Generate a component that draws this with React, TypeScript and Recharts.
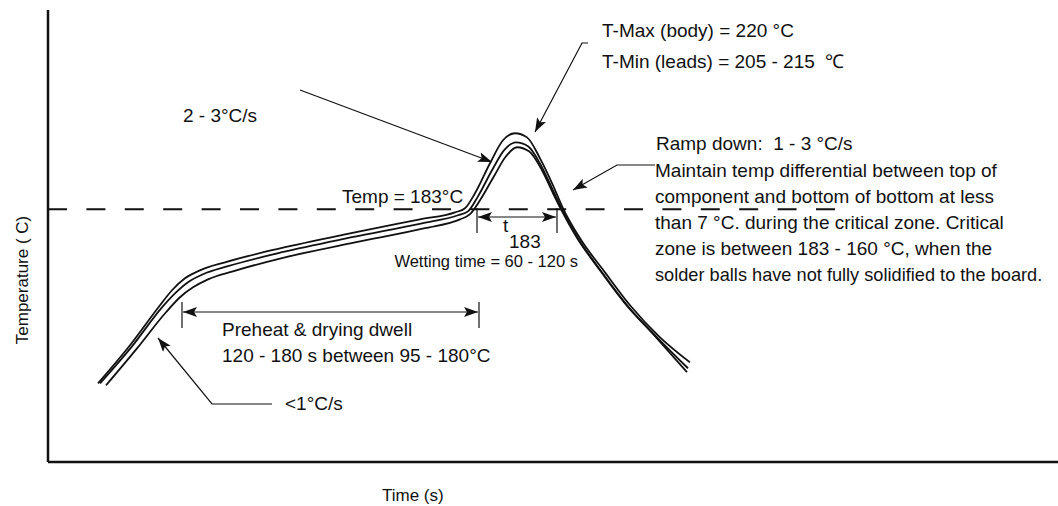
import { LineChart, Line, XAxis, YAxis, ReferenceLine, Customized } from "recharts";

// three thermocouple traces of the reflow profile (time s, temperature °C)
const outerTime = [25, 41, 56, 62, 68.5, 76, 88.5, 116, 151, 186, 203.5, 208.5, 213.5, 221, 227.5, 233.5, 239.5, 246, 252.5, 257.5, 266, 278.5, 291, 306, 321];
const outerTemp = [98.3, 116.8, 136.3, 143.6, 149.4, 153.3, 157.2, 164, 171.3, 178.1, 181.5, 183.5, 190.8, 205.4, 216.6, 220, 218, 207.8, 194.7, 183.5, 168.9, 152.3, 136.3, 120.7, 108.5];

const middleTime = [26, 42, 57, 63.5, 70, 77.5, 90, 117, 152, 187, 205, 210, 215, 222, 228, 234, 240, 246.5, 252.5, 257, 265, 277, 289.5, 304.5, 320];
const middleTemp = [98.3, 116.3, 135.3, 142.1, 147.5, 151.4, 155.3, 162.1, 169.4, 176.2, 180.1, 182, 189.3, 202, 211.7, 215.6, 213.7, 204.4, 192.2, 183, 168.9, 152.3, 136.3, 120.7, 105.6];

const innerTime = [29, 44.5, 59, 66, 72.5, 80, 92.5, 118.5, 153.5, 188.5, 206, 211, 216, 223, 229, 234.5, 240.5, 247, 252.5, 256.5, 264, 276, 288.5, 303.5, 319.5];
const innerTemp = [97.3, 115.3, 132.9, 140.2, 145, 148.9, 152.8, 159.6, 166.9, 173.8, 178.1, 180.6, 187.4, 199.1, 208.8, 213.2, 211.2, 202, 190.8, 183, 169.9, 153.3, 137.2, 121.2, 103.7];

const timeDomain = [0, 505];
const tempDomain = [60, 280];
const liquidus = 183;
const liquidusEnd = 396;

const toRows = (t: number[], v: number[]) => t.map((x, i) => ({ t: x, temp: v[i] }));

const FONT = '"Liberation Sans", Arial, sans-serif';
const INK = "#111";

function Annotations() {
  const txt = { fontFamily: FONT, fontSize: 19, fill: INK } as const;
  const thin = { stroke: INK, strokeWidth: 1.2, fill: "none" } as const;
  return (
    <g>
      <defs>
        <marker id="ah" markerWidth="14" markerHeight="10" refX="14" refY="5" orient="auto-start-reverse" markerUnits="userSpaceOnUse">
          <path d="M0,0 L14,5 L0,10 L3,5 z" fill={INK} />
        </marker>
      </defs>

      {/* peak callout */}
      <polyline points="588,43 582,43 535,132" {...thin} markerEnd="url(#ah)" />
      <text x={602} y={37} {...txt}>T-Max (body) = 220 °C</text>
      <text x={602} y={68} {...txt} style={{ whiteSpace: "pre" }}>T-Min (leads) = 205 - 215  ℃</text>

      {/* ramp up */}
      <line x1={300} y1={90} x2={492} y2={162} {...thin} markerEnd="url(#ah)" />
      <text x={183} y={122} {...txt}>2 - 3°C/s</text>

      <text x={342} y={203} {...txt}>Temp = 183°C</text>

      {/* ramp down */}
      <polyline points="655,165 617,165 573,190" {...thin} markerEnd="url(#ah)" />
      <text x={656} y={150} {...txt} style={{ whiteSpace: "pre" }}>Ramp down:  1 - 3 °C/s</text>
      <text x={655} y={177} {...txt}>Maintain temp differential between top of</text>
      <text x={655} y={203} {...txt}>component and bottom of bottom at less</text>
      <text x={655} y={229} {...txt}>than 7 °C. during the critical zone. Critical</text>
      <text x={655} y={255} {...txt}>zone is between 183 - 160 °C, when the</text>
      <text x={655} y={281} {...txt} fontSize={18.2}>solder balls have not fully solidified to the board.</text>

      {/* time above liquidus */}
      <line x1={477} y1={208} x2={477} y2={233} {...thin} />
      <line x1={557} y1={208} x2={557} y2={233} {...thin} />
      <line x1={478} y1={217} x2={556} y2={217} {...thin} markerStart="url(#ah)" markerEnd="url(#ah)" />
      <text x={503} y={232} {...txt}>t</text>
      <text x={509} y={248} {...txt}>183</text>
      <text x={578} y={267} {...txt} fontSize={16.5} textAnchor="end">Wetting time = 60 - 120 s</text>

      {/* preheat */}
      <line x1={182} y1={302} x2={182} y2={328} {...thin} />
      <line x1={479} y1={302} x2={479} y2={328} {...thin} />
      <line x1={183} y1={312} x2={478} y2={312} {...thin} markerStart="url(#ah)" markerEnd="url(#ah)" />
      <text x={222} y={336} {...txt}>Preheat &amp; drying dwell</text>
      <text x={222} y={362} {...txt}>120 - 180 s between 95 - 180°C</text>

      <polyline points="272,404 212,404 158,338" {...thin} markerEnd="url(#ah)" />
      <text x={285} y={410} {...txt}>&lt;1°C/s</text>

      {/* axis titles */}
      <text x={382} y={501} {...txt} fontSize={17}>Time (s)</text>
      <text x={28} y={280} {...txt} fontSize={17} textAnchor="middle" transform="rotate(-90 28 280)">Temperature ( C)</text>
    </g>
  );
}

export default function App() {
  const series = [toRows(outerTime, outerTemp), toRows(middleTime, middleTemp), toRows(innerTime, innerTemp)];
  return (
    <div style={{ position: "absolute", left: 0, top: 0, background: "#fff" }}>
      <LineChart width={1058} height={506} margin={{ top: 10, right: 0, bottom: 44, left: 48 }}>
        <XAxis type="number" dataKey="t" domain={timeDomain} hide allowDataOverflow />
        <YAxis type="number" dataKey="temp" domain={tempDomain} hide allowDataOverflow />
        <ReferenceLine x={timeDomain[0]} stroke={INK} strokeWidth={2.5} ifOverflow="visible" />
        <ReferenceLine y={tempDomain[0]} stroke={INK} strokeWidth={2.5} ifOverflow="visible" />
        <ReferenceLine segment={[{ x: 0, y: liquidus }, { x: liquidusEnd, y: liquidus }]} stroke={INK} strokeWidth={2} strokeDasharray="19 19.4" />
        {series.map((rows, i) => (
          <Line key={i} data={rows} dataKey="temp" type="monotone" stroke={INK} strokeWidth={1.8} dot={false} isAnimationActive={false} />
        ))}
        <Customized component={Annotations} />
      </LineChart>
    </div>
  );
}
